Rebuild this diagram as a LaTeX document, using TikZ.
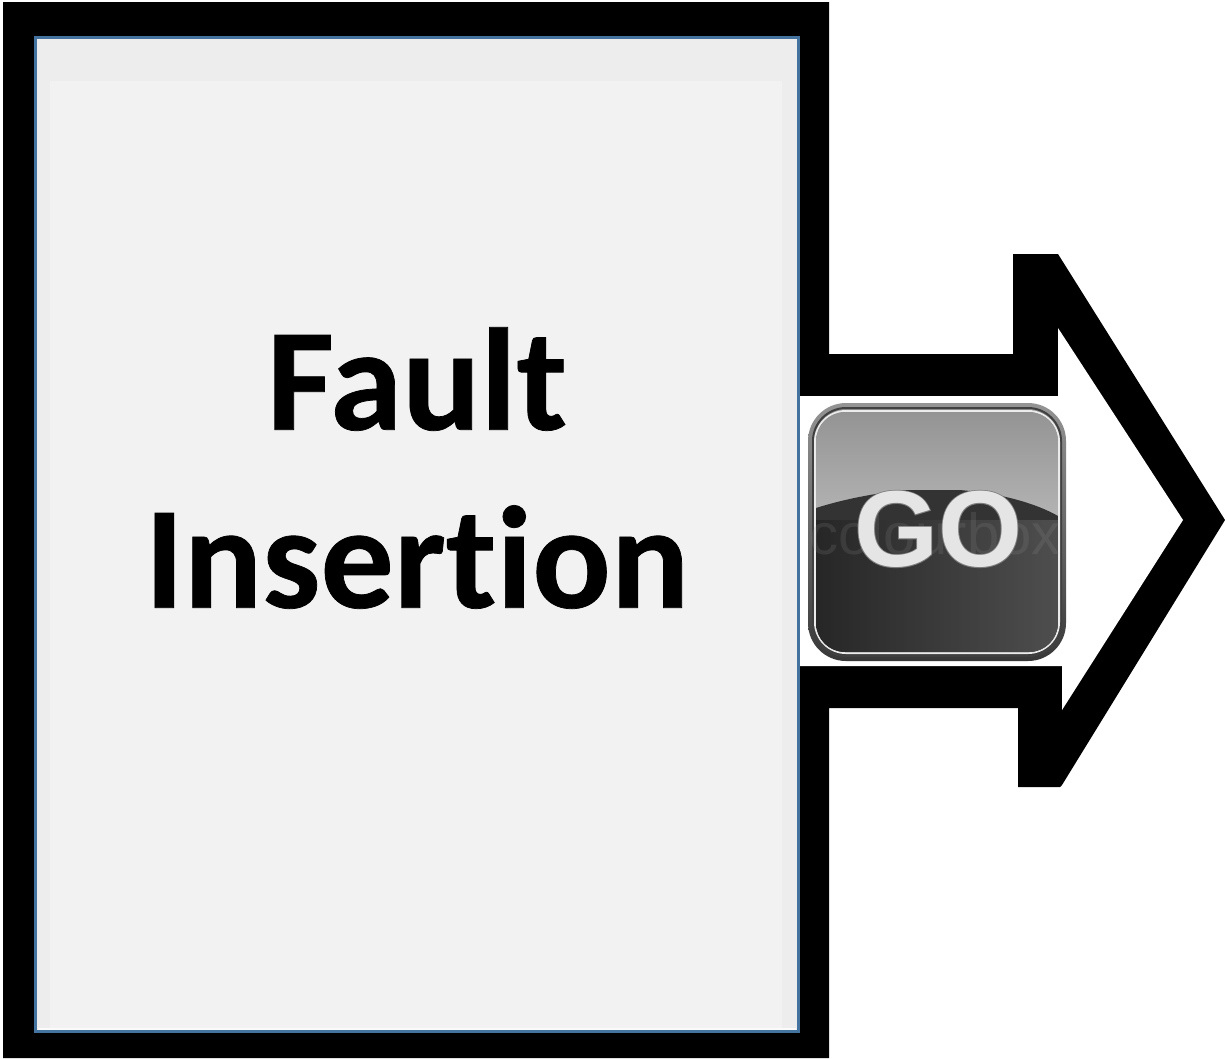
\documentclass[tikz,border=0pt]{standalone}
\usepackage{fontspec}
\setmainfont{Carlito}[Ligatures=NoCommon,BoldFeatures={FakeBold=0.5}]
\newfontfamily\gofont{Liberation Sans}
\newfontfamily\goedge{Liberation Sans Bold}[FakeBold=1.6]
\newfontfamily\markfont{Liberation Sans}
\definecolor{panelblue}{HTML}{44739F}
\definecolor{panelrim}{HTML}{EDEDED}
\definecolor{panelfill}{HTML}{F2F2F2}
\tikzset{
  blackshape/.style={fill=black,draw=none},
  titletext/.style={font=\bfseries\fontsize{146}{178}\selectfont,align=center,text=black,inner sep=0pt},
}
\begin{document}
\begin{tikzpicture}[x=1pt,y=-1pt]
\useasboundingbox (0,0) rectangle (1225,1058);
\fill[white] (0,0) rectangle (1225,1058);
% black frame with the arrow
\fill[blackshape] (3,2) -- (829,2) -- (829,354) -- (1013,354) -- (1013,254) -- (1058,254)
  -- (1225,520) -- (1062,785) -- (1060,787) -- (1018,787) -- (1018,708) -- (829,708)
  -- (829,1058) -- (3,1058) -- cycle;
% arrow interior
\fill[white] (1058,328) -- (1183,520) -- (1062,710) -- (1062,666) -- (800,666) -- (800,396) -- (1058,396) -- cycle;
% panel
\fill[panelrim] (35,36) rectangle (799,1032);
\fill[panelfill] (50,81) rectangle (782,1028);
\fill[white!60!panelfill] (38,1028) rectangle (796,1031);
\draw[panelblue,line width=3pt] (35.5,37.5) rectangle (798.5,1031);
% GO picture background
\fill[white] (800,396) rectangle (1072,666);
% button
\shade[rounded corners=38pt,top color=black!42,bottom color=black!78] (808,403) rectangle (1066,661);
\draw[black!75,line width=2pt,rounded corners=33pt] (813,408) rectangle (1061,656);
\draw[black!8,line width=2pt,rounded corners=31pt] (815,411) rectangle (1059,653);
\begin{scope}
  \clip[rounded corners=29pt] (816,412) rectangle (1058,652);
  \shade[top color=black!42,bottom color=black!30] (816,412) rectangle (1058,515);
  \clip (816,508) .. controls (860,494) and (910,488) .. (940,489)
    .. controls (985,490) and (1030,500) .. (1058,516) -- (1058,653) -- (816,653) -- cycle;
  \shade[top color=black!80,middle color=black!68,bottom color=black!80] (816,490) rectangle (1058,653);
  \shade[shading angle=125,left color=black!88,right color=black!62,opacity=.6] (816,520) rectangle (1058,653);
\end{scope}
\node[inner sep=0pt,text=black!40,opacity=.16,font=\markfont\fontsize{58}{58}\selectfont] (wmark) at (935,534) {colourbox};
\node[inner sep=0pt,text=black!52,font=\goedge\fontsize{108}{108}\selectfont] (goedge) at (938,529) {GO};
\node[inner sep=0pt,text=black!10,font=\gofont\bfseries\fontsize{108}{108}\selectfont] (golabel) at (938,529) {GO};
% title
\node[titletext] (title) at (417,468) {Fault\\Insertion};
\end{tikzpicture}
\end{document}
